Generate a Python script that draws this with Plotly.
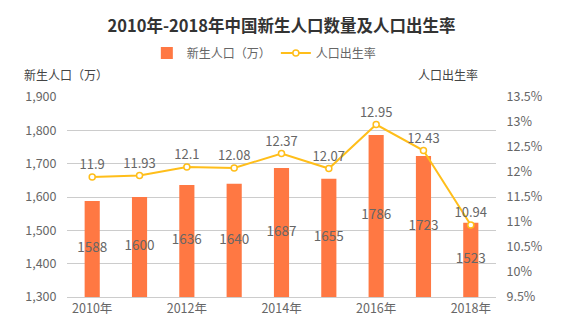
import plotly.graph_objects as go

years = ["2010年", "2011年", "2012年", "2013年", "2014年", "2015年", "2016年", "2017年", "2018年"]
births = [1588, 1600, 1636, 1640, 1687, 1655, 1786, 1723, 1523]
rates = [11.9, 11.93, 12.1, 12.08, 12.37, 12.07, 12.95, 12.43, 10.94]
left_ticks = [1300, 1400, 1500, 1600, 1700, 1800, 1900]
right_ticks = [9.5, 10, 10.5, 11, 11.5, 12, 12.5, 13, 13.5]
right_labels = ["9.5%", "10%", "10.5%", "11%", "11.5%", "12%", "12.5%", "13%", "13.5%"]
x_labels = ["2010年", "2012年", "2014年", "2016年", "2018年"]
y_min, y_max = 1300, 1900

FONT = "Noto Sans CJK SC"
fig = go.Figure()
fig.add_trace(go.Bar(
    x=years, y=births, name="新生人口（万）",
    marker=dict(color="#FF7843", line=dict(width=0)),
    width=0.32,
))
# bar value labels, centred within visible part of each bar
fig.add_trace(go.Scatter(
    x=years, y=[(y_min + v) / 2 for v in births], mode="text",
    text=[str(v) for v in births], textposition="middle center",
    textfont=dict(color="#666666", size=13.5, family=FONT),
    showlegend=False, hoverinfo="skip", cliponaxis=False,
))
fig.add_trace(go.Scatter(
    x=years, y=rates, name="人口出生率", yaxis="y2",
    mode="lines+markers+text",
    line=dict(color="#FFBE1A", width=2),
    marker=dict(size=6, color="white", line=dict(color="#FFBE1A", width=1.5)),
    text=[f"{v:g}" for v in rates], textposition="top center",
    textfont=dict(color="#666666", size=13, family=FONT),
    cliponaxis=False,
))
fig.update_layout(
    width=574, height=334,
    margin=dict(l=67, r=78, t=97, b=37),
    paper_bgcolor="white", plot_bgcolor="white",
    font=dict(family=FONT, color="#666666", size=12),
    title=dict(text="<b>2010年-2018年中国新生人口数量及人口出生率</b>",
               x=0.5, xref="paper", xanchor="center", y=0.922, yanchor="middle",
               font=dict(size=16.5, color="#333333", family=FONT)),
    legend=dict(orientation="h", x=0.46, xanchor="center", y=1.22, yanchor="middle",
                font=dict(size=12, color="#666666", family=FONT)),
    showlegend=True,
    xaxis=dict(
        type="category", tickmode="array", tickvals=x_labels, ticktext=x_labels,
        showgrid=False, showline=True, linecolor="#cccccc", linewidth=1,
        ticks="", tickfont=dict(size=12.5, color="#666666"),
    ),
    yaxis=dict(
        range=[y_min, y_max], tickvals=left_ticks, tickformat=",",
        showgrid=True, gridcolor="#cccccc", gridwidth=1, zeroline=False,
        tickfont=dict(size=12.5, color="#666666"),
        ticks="outside", ticklen=7, tickcolor="rgba(0,0,0,0)",
    ),
    yaxis2=dict(
        range=[9.5, 13.5], tickvals=right_ticks, ticktext=right_labels,
        overlaying="y", side="right", showgrid=False, zeroline=False,
        tickfont=dict(size=12.5, color="#666666"),
        ticks="outside", ticklen=7, tickcolor="rgba(0,0,0,0)",
    ),
)
fig.add_annotation(text="新生人口（万）", xref="paper", yref="paper", x=-0.104, y=1.115,
                   xanchor="left", yanchor="middle", showarrow=False,
                   font=dict(size=12, color="#444444", family=FONT))
fig.add_annotation(text="人口出生率", xref="paper", yref="paper", x=0.963, y=1.115,
                   xanchor="right", yanchor="middle", showarrow=False,
                   font=dict(size=12, color="#444444", family=FONT))
fig.write_html("out.html")
